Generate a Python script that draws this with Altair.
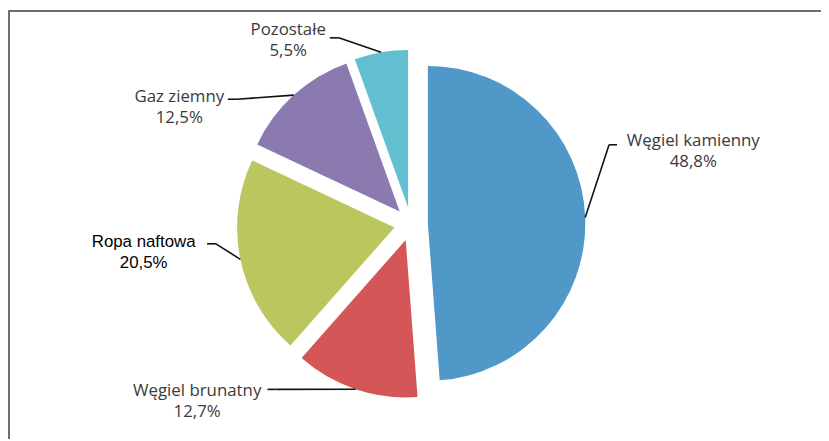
import altair as alt
import pandas as pd

# ---- data -------------------------------------------------------------
categories = ["Węgiel kamienny", "Węgiel brunatny", "Ropa naftowa", "Gaz ziemny", "Pozostałe"]
shares = [48.8, 12.7, 20.5, 12.5, 5.5]
share_text = ["48,8%", "12,7%", "20,5%", "12,5%", "5,5%"]
colors = ["#4F98C8", "#D45656", "#BBC65E", "#8B7AAF", "#62BFD0"]

# ---- layout (pixels, relative to the pie centre) -----------------------
label_dx = [285, -216, -270, -234, -124]
label_dy = [-84, 169, 18, -128, -196]
stub_x = [208, -145, -206, -185, -82]
stub_y = [-80, 167, 20, -126, -188]
stub_len = [-8, 9, 9, 9, 9]
label_font = ["Open Sans", "Open Sans", "Liberation Sans", "Open Sans", "Open Sans"]

W, H = 821, 433
CX, CY = 407, 216
R = 159
EXPLODE = 17

df = pd.DataFrame({
    "category": categories,
    "share": shares,
    "pct": share_text,
    "order": list(range(len(categories))),
    "label_dx": label_dx,
    "label_dy": label_dy,
    "stub_x": stub_x,
    "stub_y": stub_y,
    "stub_len": stub_len,
    "font": label_font,
})

base = (
    alt.Chart(df)
    .transform_joinaggregate(total="sum(share)")
    .transform_window(cum="sum(share)", sort=[alt.SortField("order", order="ascending")])
    .transform_calculate(
        a0="2*PI*(datum.cum - datum.share)/datum.total",
        a1="2*PI*datum.cum/datum.total",
    )
    .transform_calculate(am="(datum.a0 + datum.a1)/2")
    .transform_calculate(
        cx=f"{CX} + {EXPLODE}*sin(datum.am)",
        cy=f"{CY} - {EXPLODE}*cos(datum.am)",
        ex=f"{CX} + {EXPLODE + R}*sin(datum.am)",
        ey=f"{CY} - {EXPLODE + R}*cos(datum.am)",
        lx=f"{CX} + datum.label_dx",
        ly=f"{CY} + datum.label_dy",
        sx0=f"{CX} + datum.stub_x",
        sx1=f"{CX} + datum.stub_x + datum.stub_len",
        sy=f"{CY} + datum.stub_y",
    )
)

X = lambda f: alt.X(f, type="quantitative", scale=None, axis=None)
Y = lambda f: alt.Y(f, type="quantitative", scale=None, axis=None)

arcs = base.mark_arc(outerRadius=R).encode(
    x=X("cx"),
    y=Y("cy"),
    theta=alt.Theta("a0:Q", scale=None),
    theta2=alt.Theta2("a1:Q"),
    color=alt.Color("category:N", scale=alt.Scale(domain=categories, range=colors), legend=None),
)

stubs = base.mark_rule(color="#111111", strokeWidth=1.6).encode(
    x=X("sx0"), x2="sx1:Q", y=Y("sy"), y2="sy:Q"
)
leaders = base.mark_rule(color="#111111", strokeWidth=1.6).encode(
    x=X("sx1"), x2="ex:Q", y=Y("sy"), y2="ey:Q"
)

calibri_like = base.transform_filter("datum.font == 'Open Sans'")
arial_like = base.transform_filter("datum.font == 'Liberation Sans'")

names1 = calibri_like.mark_text(font="Open Sans", fontSize=17, color="#3a3a3a", align="center", baseline="middle").encode(
    x=X("lx"), y=Y("ly"), text="category:N")
pcts1 = calibri_like.mark_text(font="Open Sans", fontSize=17, color="#3a3a3a", align="center", baseline="middle", dy=21).encode(
    x=X("lx"), y=Y("ly"), text="pct:N")
names2 = arial_like.mark_text(font="Liberation Sans", fontSize=17, color="#000000", align="center", baseline="middle").encode(
    x=X("lx"), y=Y("ly"), text="category:N")
pcts2 = arial_like.mark_text(font="Liberation Sans", fontSize=17, color="#000000", align="center", baseline="middle", dy=21).encode(
    x=X("lx"), y=Y("ly"), text="pct:N")

frame_df = pd.DataFrame({"k": [0]})
frame_top = alt.Chart(frame_df).mark_rule(color="#6e6e6e", strokeWidth=2).encode(
    x=alt.value(0), x2=alt.value(W), y=alt.value(1))
frame_left = alt.Chart(frame_df).mark_rule(color="#6e6e6e", strokeWidth=2).encode(
    x=alt.value(1), y=alt.value(0), y2=alt.value(H))

chart = (
    alt.layer(arcs, stubs, leaders, names1, pcts1, names2, pcts2, frame_top, frame_left)
    .properties(width=W, height=H, autosize="none", padding=0, background="white")
    .configure_view(stroke=None)
)

chart.save("out.html", embed_options={"renderer": "svg", "actions": False})
